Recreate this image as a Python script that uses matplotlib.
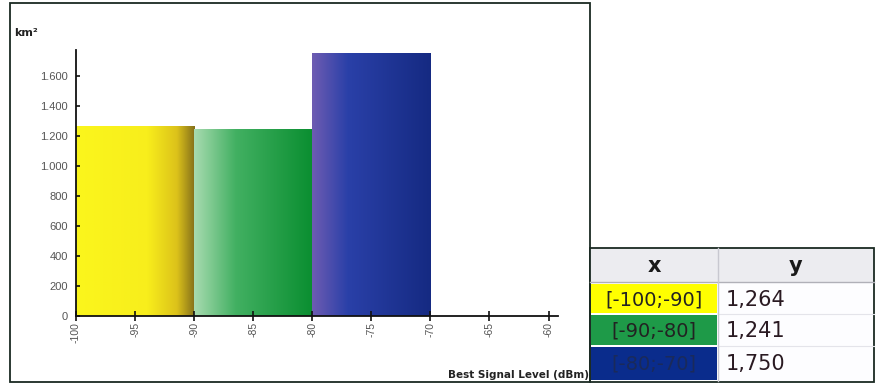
import numpy as np
import matplotlib
matplotlib.use("Agg")
import matplotlib.pyplot as plt
from matplotlib.colors import LinearSegmentedColormap
from matplotlib.patches import Rectangle

# data
bin_left = [-100, -90, -80]
bin_right = [-90, -80, -70]
area_km2 = [1264, 1241, 1750]
row_labels = ["[-100;-90]", "[-90;-80]", "[-80;-70]"]
row_values = ["1,264", "1,241", "1,750"]
x_ticks = [-100, -95, -90, -85, -80, -75, -70, -65, -60]
y_ticks = [0, 200, 400, 600, 800, 1000, 1200, 1400, 1600]

# gradient per bar (left -> right)
grads = [
    [(0, "#fbf61c"), (0.6, "#f8ee1c"), (0.85, "#dcc21a"), (1, "#85701a")],
    [(0, "#a8dbb0"), (0.35, "#42b062"), (1, "#0a8e30")],
    [(0, "#6e5cb2"), (0.3, "#2a40a8"), (1, "#152a82")],
]
cell_colors = ["#ffff00", "#1e9a48", "#0a2c8c"]

W, H = 876, 385
fig = plt.figure(figsize=(W / 100, H / 100), dpi=100)

# page overlay in pixel coords for the frame and table
pg = fig.add_axes([0, 0, 1, 1])
pg.set_xlim(0, W)
pg.set_ylim(H, 0)
pg.axis("off")
pg.add_patch(Rectangle((10, 3), 580, 379, fill=False, ec="#1a2a22", lw=1.3))

ax = fig.add_axes([76 / W, 1 - 316 / H, (558 - 76) / W, (316 - 50) / H])
ax.set_xlim(-100, -59.2)
ax.set_ylim(0, 1770)

for i in range(len(area_km2)):
    cmap = LinearSegmentedColormap.from_list("g%d" % i, grads[i])
    grad = np.linspace(0, 1, 256).reshape(1, -1)
    ax.imshow(grad, cmap=cmap, aspect="auto",
              extent=[bin_left[i], bin_right[i], 0, area_km2[i]],
              interpolation="bilinear", zorder=1, clip_on=False)

for s in ["top", "right"]:
    ax.spines[s].set_visible(False)
for s in ["left", "bottom"]:
    ax.spines[s].set_color("#111111")
    ax.spines[s].set_linewidth(1.3)
    ax.spines[s].set_zorder(3)

ax.set_xticks(x_ticks)
ax.set_xticklabels([str(t) for t in x_ticks], rotation=90, color="#555555",
                   fontsize=7.5, family="Liberation Sans")
ax.set_yticks(y_ticks)
ax.set_yticklabels(["{:,}".format(t).replace(",", ".") for t in y_ticks],
                   color="#555555", fontsize=8, family="Liberation Sans")
ax.tick_params(axis="x", direction="inout", length=7, width=1.2, pad=1, colors="#111111", labelcolor="#555555")
ax.tick_params(axis="y", direction="in", length=3, width=1.2, pad=6, colors="#111111", labelcolor="#555555")

fig.text(14 / W, 1 - 33 / H, "km²", fontsize=8, fontweight="bold", color="#222222",
         va="center", ha="left", family="DejaVu Sans")
fig.text(589 / W, 1 - 375 / H, "Best Signal Level (dBm)", fontsize=7.5, fontweight="bold",
         color="#222222", va="center", ha="right", family="DejaVu Sans")

# table
tx0, tx1, tx2 = 590, 718, 874
ty_head = (248, 282)
rows_y = [(283, 314), (314, 346), (346, 381)]
pg.add_patch(Rectangle((tx0, ty_head[0]), tx2 - tx0, ty_head[1] - ty_head[0],
                       fc="#ececf0", ec="none"))
pg.add_patch(Rectangle((tx1, 283), tx2 - tx1, 98, fc="#fdfdff", ec="none"))
for i in range(len(row_labels)):
    y0, y1 = rows_y[i]
    pg.add_patch(Rectangle((tx0 + 1, y0 + 1), tx1 - tx0 - 2, y1 - y0 - 2,
                           fc=cell_colors[i], ec="none"))
    pg.text((tx0 + tx1) / 2, (y0 + y1) / 2 + 1, row_labels[i], fontsize=14,
            color="#222222" if i < 2 else "#1a2a5a", ha="center", va="center", family="DejaVu Sans")
    pg.text(tx1 + 8, (y0 + y1) / 2 + 1, row_values[i], fontsize=15, color="#2a1a22",
            ha="left", va="center", family="DejaVu Sans")
    if i < 2:
        pg.plot([tx1, tx2], [y1, y1], color="#e4e4ea", lw=0.8)
pg.plot([tx0, tx2], [ty_head[1], ty_head[1]], color="#b0b0b8", lw=1)
pg.plot([tx1, tx1], [ty_head[0], 381], color="#c8c8d0", lw=1)
pg.text((tx0 + tx1) / 2, 266, "x", fontsize=15, fontweight="bold", color="#1a1a1a",
        ha="center", va="center", family="DejaVu Sans")
pg.text((tx1 + tx2) / 2, 266, "y", fontsize=15, fontweight="bold", color="#1a1a1a",
        ha="center", va="center", family="DejaVu Sans")
pg.add_patch(Rectangle((tx0, ty_head[0]), tx2 - tx0, 382 - ty_head[0],
                       fill=False, ec="#1a2a22", lw=1.3))

fig.savefig("out.png", dpi=100)
